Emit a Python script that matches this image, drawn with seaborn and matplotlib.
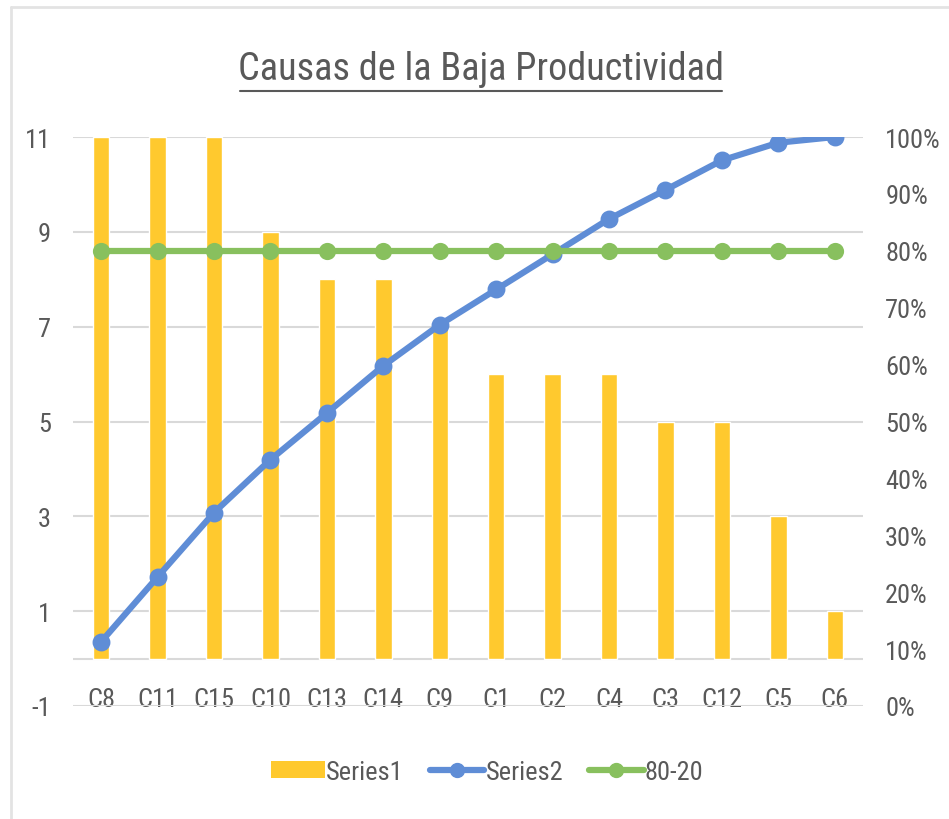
import numpy as np
import seaborn as sns
import matplotlib.pyplot as plt
from matplotlib import font_manager
from matplotlib.font_manager import FontProperties
from matplotlib.patches import Patch
from matplotlib.lines import Line2D

# Chart data
categories = ['C8', 'C11', 'C15', 'C10', 'C13', 'C14', 'C9',
              'C1', 'C2', 'C4', 'C3', 'C12', 'C5', 'C6']
series1 = [11, 11, 11, 9, 8, 8, 7, 6, 6, 6, 5, 5, 3, 1]
series2 = [0.113, 0.227, 0.340, 0.433, 0.515, 0.598, 0.670,
           0.732, 0.794, 0.856, 0.907, 0.959, 0.990, 1.0]
line_80_20 = [0.8] * 14
left_ticks = [-1, 1, 3, 5, 7, 9, 11]
right_ticks = [0, 0.1, 0.2, 0.3, 0.4, 0.5, 0.6, 0.7, 0.8, 0.9, 1.0]
right_labels = ['0%', '10%', '20%', '30%', '40%', '50%',
                '60%', '70%', '80%', '90%', '100%']

# Colours
yellow = '#FFC92E'
blue = '#5F8DD6'
green = '#88C05E'
text_grey = '#595959'
grid_grey = '#D9D9D9'

sns.set_theme(style='white')

# Pick a narrow font if there is one, the Excel chart text is condensed
narrow = None
for name in ['Liberation Sans Narrow', 'Roboto Condensed', 'Open Sans Condensed']:
    try:
        font_manager.findfont(FontProperties(family=name), fallback_to_default=False)
        narrow = name
        break
    except Exception:
        pass
if narrow:
    plt.rcParams['font.family'] = [narrow, 'DejaVu Sans']
    tick_size, title_size = 19, 27.5
else:
    plt.rcParams['font.family'] = ['Liberation Sans', 'DejaVu Sans']
    tick_size, title_size = 15, 22

fig = plt.figure(figsize=(9.49, 8.20), dpi=100)
ax = fig.add_axes([73 / 949, 1 - 707 / 820, 790 / 949, 569 / 820])

# Bars
sns.barplot(x=categories, y=series1, color=yellow, width=0.29,
            saturation=1, ax=ax, zorder=2)
ax.set_ylim(-1, 11)
ax.set_xlim(-0.5, 13.5)
ax.set_yticks(left_ticks)
ax.set_yticklabels([str(t) for t in left_ticks])
for y in left_ticks + [0]:
    ax.axhline(y, color=grid_grey, lw=1.5, zorder=1)
ax.tick_params(axis='y', length=0, pad=16, labelsize=tick_size, labelcolor=text_grey)
ax.tick_params(axis='x', length=0, pad=-14, labelsize=tick_size, labelcolor=text_grey)
ax.set_xlabel('')
ax.set_ylabel('')
for s in ax.spines.values():
    s.set_visible(False)

# Cumulative percentage and 80-20 lines on the secondary axis
ax2 = ax.twinx()
sns.pointplot(x=categories, y=series2, color=blue, ax=ax2,
              markersize=9.5, linewidth=4.5)
sns.pointplot(x=categories, y=line_80_20, color=green, ax=ax2,
              markersize=9, linewidth=4.5)
ax2.set_ylim(0, 1)
ax2.set_xlim(-0.5, 13.5)
ax2.set_yticks(right_ticks)
ax2.set_yticklabels(right_labels)
ax2.tick_params(axis='y', length=0, pad=16, labelsize=tick_size, labelcolor=text_grey)
ax2.set_ylabel('')
ax2.grid(False)
for s in ax2.spines.values():
    s.set_visible(False)

# Title with underline
fig.text(481 / 949, 1 - 70 / 820, 'Causas de la Baja Productividad',
         ha='center', va='center', fontsize=title_size, color=text_grey)
fig.add_artist(Line2D([240 / 949, 722 / 949], [1 - 92 / 820, 1 - 92 / 820],
                      color=text_grey, lw=1.5))

# Legend
handles = [
    Patch(facecolor=yellow, edgecolor='none', label='Series1'),
    Line2D([], [], color=blue, lw=4.5, marker='o', markersize=10, label='Series2'),
    Line2D([], [], color=green, lw=4.5, marker='o', markersize=10, label='80-20'),
]
fig.legend(handles=handles, loc='center', bbox_to_anchor=(487 / 949, 1 - 773 / 820),
           ncol=3, frameon=False, fontsize=tick_size, labelcolor=text_grey,
           handlelength=2.05, handleheight=0.6, handletextpad=0.05, columnspacing=1.0)

# Chart area border (only top and left edges show in the picture)
fig.add_artist(Line2D([11 / 949, 1], [1 - 8 / 820, 1 - 8 / 820], color='#E3E3E3', lw=2))
fig.add_artist(Line2D([11 / 949, 11 / 949], [0, 1 - 8 / 820], color='#E3E3E3', lw=2))

fig.savefig('out.png', dpi=100)
